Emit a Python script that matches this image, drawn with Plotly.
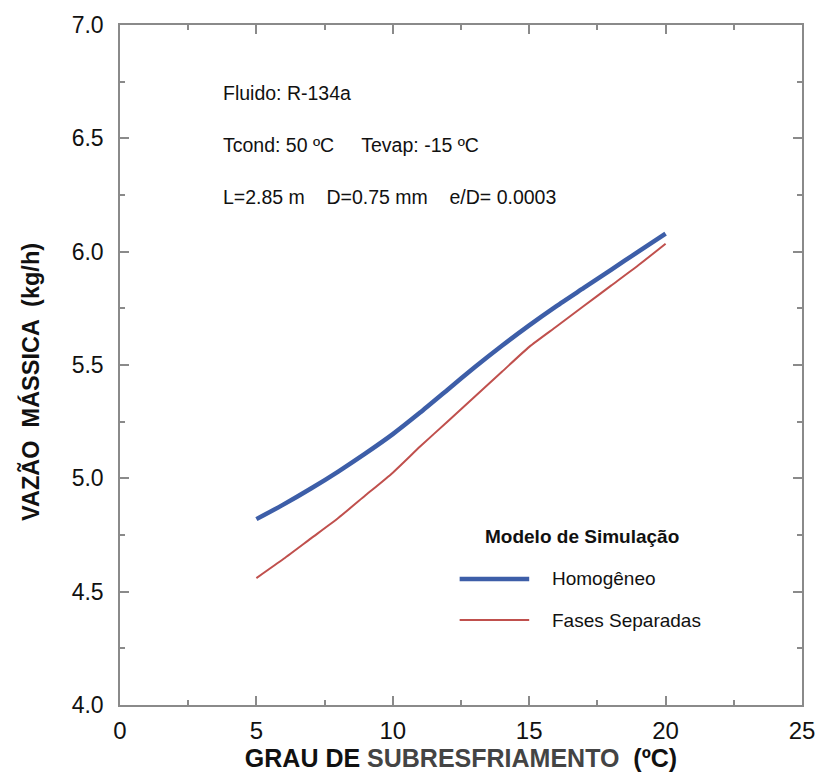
import plotly.graph_objects as go

subcool = [5, 6, 7, 8, 9, 10, 11, 12, 13, 14, 15, 16, 17, 18, 19, 20]
homogeneo = [4.82, 4.885, 4.955, 5.03, 5.11, 5.195, 5.29, 5.39, 5.49, 5.585, 5.675, 5.76, 5.84, 5.92, 6.00, 6.08]
fases_sep = [4.56, 4.645, 4.735, 4.825, 4.925, 5.025, 5.14, 5.25, 5.36, 5.47, 5.58, 5.67, 5.76, 5.85, 5.94, 6.035]
series_names = ["Homogêneo", "Fases Separadas"]
series_colors = ["#3d5ea8", "#c0504d"]
series_widths = [4.5, 2]
legend_title = "Modelo de Simulação"
y_title = "VAZÃO  MÁSSICA  (kg/h)"
nb = "&nbsp;"
info_lines = ["Fluido: R-134a",
              "Tcond: 50 ºC" + nb * 5 + "Tevap: -15 ºC",
              "L=2.85 m" + nb * 4 + "D=0.75 mm" + nb * 4 + "e/D= 0.0003"]

fig = go.Figure()
for y, n, c, w in zip([homogeneo, fases_sep], series_names, series_colors, series_widths):
    fig.add_trace(go.Scatter(x=subcool, y=y, mode="lines", name=n,
                             line=dict(color=c, width=w, shape="spline", smoothing=0.6),
                             showlegend=False))

axis_common = dict(showline=True, linecolor="#8a8a8a", linewidth=1.5, mirror="ticks",
                   ticks="inside", ticklen=9, tickcolor="#8a8a8a", tickwidth=1.5,
                   showgrid=False, zeroline=False, automargin=False)

fig.update_xaxes(range=[0, 25], dtick=5, tick0=0,
                 minor=dict(dtick=2.5, ticks="inside", ticklen=5, tickcolor="#8a8a8a"),
                 tickfont=dict(family="Liberation Sans Narrow, Liberation Sans, Arial", size=24, color="#111"),
                 ticklabelstandoff=3,
                 title=dict(text="<b>GRAU DE <span style='color:#444'>SUBRESFRIAMENTO</span>  (ºC)</b>",
                            font=dict(family="Liberation Sans Narrow, Liberation Sans, Arial", size=25, color="#111"),
                            standoff=2),
                 **axis_common)
fig.update_yaxes(range=[4.0, 7.0], dtick=0.5, tick0=4.0, tickformat=".1f",
                 minor=dict(dtick=0.25, ticks="inside", ticklen=5, tickcolor="#8a8a8a"),
                 tickfont=dict(family="Liberation Sans, Arial", size=23, color="#111"),
                 ticklabelstandoff=10,
                 **axis_common)

# y-axis title (placed slightly below centre as in the original)
fig.add_annotation(x=0, xref="paper", xshift=-90, y=5.425, yref="y", text="<b>" + y_title + "</b>",
                   textangle=-90, showarrow=False, xanchor="center", yanchor="middle",
                   font=dict(family="Liberation Sans, Arial", size=23.5, color="#111"))

info_font = dict(family="Liberation Sans, Arial", size=19.5, color="#111")
info_y = [6.70, 6.47, 6.24]
for yy, t in zip(info_y, info_lines):
    fig.add_annotation(x=3.72, y=yy, xref="x", yref="y", text=t, showarrow=False,
                       xanchor="left", yanchor="middle", font=info_font)

# manual legend
fig.add_annotation(x=13.3, y=4.745, xref="x", yref="y", text="<b>" + legend_title + "</b>",
                   showarrow=False, xanchor="left", yanchor="middle",
                   font=dict(family="Liberation Sans, Arial", size=19, color="#111"))
leg_y = [4.556, 4.375]
for ly, n, c, w in zip(leg_y, series_names, series_colors, series_widths):
    fig.add_shape(type="line", x0=12.45, x1=15.0, y0=ly, y1=ly, xref="x", yref="y",
                  line=dict(color=c, width=w))
    fig.add_annotation(x=15.75, y=ly, xref="x", yref="y", text=n, showarrow=False,
                       xanchor="left", yanchor="middle",
                       font=dict(family="Liberation Sans, Arial", size=19, color="#111"))

fig.update_layout(width=819, height=773, margin=dict(l=120, r=17, t=25, b=68),
                  plot_bgcolor="white", paper_bgcolor="white", showlegend=False)
fig.write_html("out.html")
